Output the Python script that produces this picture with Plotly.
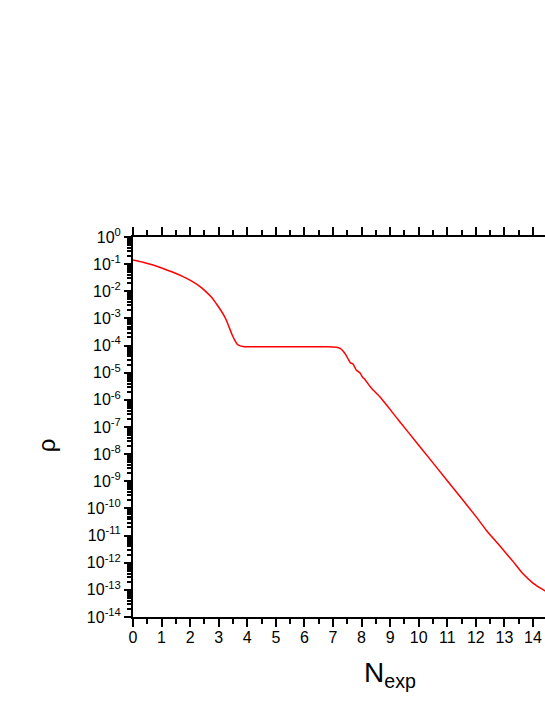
import plotly.graph_objects as go

# N_exp vs rho
n_exp = [0.0, 0.35, 0.7, 1.05, 1.4, 1.75, 2.1, 2.35, 2.56, 2.75, 2.91, 3.06,
         3.21, 3.3, 3.38, 3.47, 3.56, 3.64, 3.73, 3.85, 3.96, 5.0, 6.0, 6.8,
         7.12, 7.25, 7.36, 7.45, 7.53, 7.61, 7.66, 7.70, 7.76, 7.82, 7.88,
         7.94, 8.0, 8.05, 8.11, 8.17, 8.34, 8.64, 9.28, 10.0, 11.0, 12.0,
         12.37, 12.83, 13.07, 13.3, 13.65, 14.0, 14.41, 14.6]
rho = [1.41e-1, 1.17e-1, 9.3e-2, 6.9e-2, 5.0e-2, 3.47e-2, 2.24e-2, 1.48e-2,
       9.5e-3, 6.0e-3, 3.55e-3, 2.09e-3, 1.15e-3, 7.1e-4, 4.3e-4, 2.5e-4,
       1.58e-4, 1.15e-4, 1.0e-4, 9.3e-5, 9.1e-5, 9.1e-5, 9.1e-5, 9.1e-5,
       8.7e-5, 7.9e-5, 6.2e-5, 4.5e-5, 3.2e-5, 2.3e-5, 2.2e-5, 2.1e-5,
       1.62e-5, 1.23e-5, 1.12e-5, 1.0e-5, 7.8e-6, 6.5e-6, 5.8e-6, 4.7e-6,
       2.75e-6, 1.29e-6, 1.86e-7, 2.14e-8, 1.05e-9, 5.1e-11, 1.55e-11,
       4.3e-12, 2.14e-12, 1.12e-12, 3.9e-13, 1.78e-13, 9.3e-14, 7.4e-14]

exponents = list(range(0, -15, -1))
y_tickvals = [10.0 ** e for e in exponents]
y_ticktext = [f"10<sup>{e}</sup>" for e in exponents]
y_minor = [m * 10.0 ** e for e in exponents[1:] for m in range(2, 10)]

FONT = "Liberation Sans, Arial"

fig = go.Figure()
fig.add_trace(go.Scatter(x=n_exp, y=rho, mode="lines",
                         line=dict(color="#ff0000", width=1.5, shape="spline",
                                   smoothing=0.6),
                         showlegend=False))

fig.update_xaxes(range=[0, 14.42], tickmode="linear", tick0=0, dtick=1,
                 showline=True, linecolor="black", linewidth=2,
                 mirror="ticks", ticks="outside", ticklen=8, tickwidth=2,
                 tickcolor="black", showgrid=False, zeroline=False,
                 ticklabelstandoff=-3,
                 tickfont=dict(family=FONT, size=16, color="black"),
                 minor=dict(ticks="outside", ticklen=5, tickwidth=2,
                            tickcolor="black", dtick=0.5, tick0=0,
                            showgrid=False))
fig.update_yaxes(type="log", range=[-14, 0], tickvals=y_tickvals,
                 ticktext=y_ticktext, showline=True, linecolor="black",
                 linewidth=2, ticks="outside", ticklen=7, tickwidth=2,
                 tickcolor="black", showgrid=False, zeroline=False,
                 tickfont=dict(family=FONT, size=16, color="black"),
                 minor=dict(tickmode="array", tickvals=y_minor, ticks="outside",
                            ticklen=4, tickwidth=1.5, tickcolor="black",
                            showgrid=False))

fig.add_annotation(text="N<sub>exp</sub>", xref="paper", yref="paper",
                   x=0.624, y=-0.15, showarrow=False, xanchor="center",
                   yanchor="middle",
                   font=dict(family=FONT, size=28, color="black"))
fig.add_annotation(text="ρ", xref="paper", yref="paper", x=-0.21, y=0.453,
                   showarrow=False, textangle=-90, xanchor="center",
                   yanchor="middle",
                   font=dict(family=FONT, size=24, color="black"))

fig.update_layout(width=545, height=700, plot_bgcolor="white",
                  paper_bgcolor="white",
                  margin=dict(l=133, r=0, t=237, b=83))

# drop the default 8px body margin so the figure sits at the window's corner
fig.write_html("out.html", config={"displayModeBar": False},
               post_script="document.body.style.margin='0';"
                           "document.body.style.overflow='hidden';")
